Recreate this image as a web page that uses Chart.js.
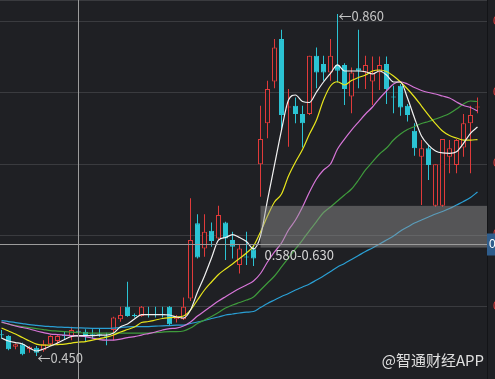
<!DOCTYPE html>
<html><head><meta charset="utf-8">
<script src="https://cdn.jsdelivr.net/npm/chart.js@4"></script>
<style>html,body{margin:0;padding:0;background:#1f2024;overflow:hidden}canvas{display:block}</style>
</head><body>
<canvas id="c" width="495" height="379"></canvas>
<script>
// ---- data (prices) ----
const opens  = [0.476,0.474,0.461,0.464,0.458,0.460,0.457,0.464,0.468,0.475,0.473,0.480,0.479,0.476,0.476,0.474,0.481,0.494,0.509,0.499,0.498,0.500,0.500,0.500,0.509,0.494,0.494,0.519,0.609,0.579,0.600,0.591,0.610,0.589,0.559,0.569,0.578,0.680,0.729,0.779,0.830,0.748,0.750,0.740,0.740,0.810,0.800,0.790,0.799,0.799,0.761,0.795,0.790,0.779,0.790,0.800,0.761,0.774,0.750,0.720,0.689,0.699,0.630,0.630,0.689,0.679,0.700,0.729,0.748];
const closes = [0.475,0.458,0.464,0.452,0.461,0.454,0.464,0.474,0.474,0.474,0.481,0.479,0.474,0.475,0.475,0.473,0.496,0.499,0.498,0.498,0.509,0.499,0.499,0.499,0.488,0.497,0.509,0.589,0.568,0.599,0.588,0.619,0.591,0.581,0.579,0.568,0.567,0.710,0.770,0.820,0.739,0.749,0.740,0.729,0.810,0.790,0.790,0.810,0.792,0.770,0.790,0.792,0.799,0.789,0.799,0.770,0.760,0.748,0.739,0.699,0.699,0.679,0.680,0.710,0.699,0.709,0.729,0.739,0.749];
const highs  = [0.481,0.475,0.465,0.466,0.462,0.462,0.469,0.475,0.475,0.480,0.485,0.482,0.482,0.482,0.483,0.478,0.497,0.509,0.539,0.501,0.510,0.509,0.509,0.509,0.510,0.499,0.520,0.639,0.620,0.620,0.610,0.630,0.611,0.599,0.583,0.599,0.583,0.750,0.780,0.830,0.841,0.770,0.760,0.750,0.810,0.820,0.810,0.830,0.860,0.801,0.796,0.841,0.810,0.809,0.809,0.809,0.774,0.776,0.752,0.729,0.709,0.703,0.680,0.710,0.709,0.710,0.740,0.750,0.760];
const lows   = [0.471,0.457,0.458,0.451,0.454,0.450,0.455,0.462,0.464,0.470,0.469,0.476,0.467,0.471,0.473,0.463,0.469,0.491,0.497,0.496,0.497,0.496,0.496,0.496,0.487,0.490,0.493,0.516,0.567,0.569,0.581,0.589,0.565,0.567,0.549,0.559,0.558,0.641,0.711,0.771,0.721,0.701,0.729,0.700,0.739,0.771,0.780,0.780,0.778,0.751,0.741,0.771,0.770,0.751,0.769,0.752,0.741,0.738,0.731,0.690,0.631,0.661,0.629,0.629,0.669,0.669,0.689,0.669,0.741];

const ma5  = [0.4715,0.4679,0.4661,0.4643,0.4595,0.4560,0.4584,0.4619,0.4655,0.4697,0.4733,0.4745,0.4745,0.4745,0.4751,0.4751,0.4775,0.4851,0.4883,0.4943,0.4997,0.4997,0.4997,0.4997,0.4991,0.4967,0.4955,0.5051,0.5267,0.5459,0.5675,0.5890,0.5920,0.5956,0.5920,0.5872,0.5783,0.5938,0.6370,0.6790,0.7209,0.7569,0.7629,0.7551,0.7539,0.7665,0.7785,0.7889,0.7989,0.7917,0.7917,0.7917,0.7908,0.7881,0.7917,0.7869,0.7785,0.7785,0.7593,0.7353,0.7137,0.7029,0.6958,0.6934,0.6930,0.6949,0.7050,0.7170,0.7245];
const ma10 = [0.4835,0.4799,0.4763,0.4721,0.4679,0.4643,0.4631,0.4631,0.4637,0.4643,0.4655,0.4667,0.4673,0.4691,0.4709,0.4727,0.4751,0.4787,0.4817,0.4847,0.4901,0.4913,0.4931,0.4949,0.4959,0.4967,0.4979,0.5051,0.5171,0.5291,0.5387,0.5477,0.5543,0.5603,0.5669,0.5735,0.5818,0.5986,0.6178,0.6346,0.6442,0.6658,0.6826,0.6975,0.7161,0.7329,0.7569,0.7737,0.7788,0.7749,0.7803,0.7839,0.7869,0.7917,0.7929,0.7911,0.7857,0.7785,0.7701,0.7605,0.7497,0.7389,0.7287,0.7197,0.7143,0.7113,0.7089,0.7089,0.7095];
const ma20 = [0.4907,0.4883,0.4859,0.4841,0.4823,0.4799,0.4781,0.4763,0.4757,0.4751,0.4745,0.4739,0.4731,0.4715,0.4697,0.4691,0.4691,0.4703,0.4721,0.4731,0.4751,0.4769,0.4787,0.4811,0.4829,0.4835,0.4859,0.4907,0.4979,0.5039,0.5099,0.5159,0.5211,0.5261,0.5309,0.5351,0.5399,0.5489,0.5627,0.5747,0.5854,0.6010,0.6130,0.6286,0.6466,0.6622,0.6730,0.6802,0.6981,0.7101,0.7209,0.7305,0.7401,0.7485,0.7587,0.7677,0.7761,0.7788,0.7761,0.7719,0.7683,0.7659,0.7641,0.7617,0.7593,0.7545,0.7503,0.7479,0.7437];
const ma30 = [0.4901,0.4883,0.4865,0.4853,0.4841,0.4829,0.4817,0.4805,0.4799,0.4793,0.4787,0.4781,0.4775,0.4775,0.4775,0.4775,0.4775,0.4775,0.4775,0.4775,0.4775,0.4775,0.4781,0.4787,0.4791,0.4791,0.4799,0.4835,0.4889,0.4931,0.4973,0.5021,0.5075,0.5111,0.5141,0.5171,0.5207,0.5291,0.5375,0.5459,0.5567,0.5675,0.5783,0.5890,0.6004,0.6112,0.6220,0.6286,0.6358,0.6430,0.6502,0.6610,0.6730,0.6826,0.6922,0.6993,0.7089,0.7161,0.7215,0.7251,0.7287,0.7311,0.7341,0.7371,0.7407,0.7461,0.7521,0.7557,0.7551];
const ma60 = [0.4923,0.4913,0.4901,0.4889,0.4877,0.4868,0.4859,0.4853,0.4847,0.4844,0.4840,0.4837,0.4834,0.4832,0.4832,0.4832,0.4835,0.4841,0.4850,0.4851,0.4851,0.4853,0.4857,0.4862,0.4865,0.4869,0.4871,0.4889,0.4907,0.4925,0.4949,0.4967,0.4991,0.5003,0.5015,0.5025,0.5033,0.5081,0.5129,0.5171,0.5213,0.5249,0.5291,0.5327,0.5363,0.5411,0.5459,0.5513,0.5567,0.5609,0.5657,0.5705,0.5753,0.5795,0.5842,0.5890,0.5938,0.5998,0.6046,0.6094,0.6130,0.6166,0.6202,0.6232,0.6268,0.6310,0.6352,0.6400,0.6466];

const yTicks = [0.851, 0.766, 0.680, 0.595, 0.509];
const highMark = {index: 48, value: 0.860, label: '←0.860'};
const lowMark  = {index: 5,  value: 0.450, label: '←0.450'};
const zone = {fromIndex: 37, low: 0.580, high: 0.630, label: '0.580-0.630'};
const crosshair = {index: 11, value: 0.584, label: '0.584'};
const watermark = '@智通财经APP';

// ---- styling ----
const BG = '#1f2024', UP = '#e03a3a', DOWN = '#2bc3d3';
const idx = opens.map((_, i) => i);
const isUp = i => closes[i] > opens[i];
const isDoji = i => Math.abs(closes[i] - opens[i]) < 0.0015;
const candleColor = i => isUp(i) ? UP : DOWN;
const LABEL_FONT = '13px "Noto Sans CJK SC", "Liberation Sans", sans-serif';

const overlay = {
  id: 'overlay',
  beforeDatasetsDraw(chart) {
    const {ctx, chartArea: a} = chart;
    ctx.save();
    ctx.strokeStyle = '#3a3b3f'; ctx.lineWidth = 1;
    ctx.beginPath(); ctx.moveTo(a.left, a.top + 0.5); ctx.lineTo(a.right, a.top + 0.5); ctx.stroke();
    ctx.restore();
  },
  afterDatasetsDraw(chart) {
    const {ctx, chartArea: a, scales: {x, y}} = chart;
    ctx.save();
    const zx = x.getPixelForValue(zone.fromIndex);
    const zt = y.getPixelForValue(zone.high), zb = y.getPixelForValue(zone.low);
    ctx.fillStyle = 'rgba(150,150,150,0.45)';
    ctx.fillRect(zx, zt, a.right - zx, zb - zt);
    const cx = Math.floor(x.getPixelForValue(crosshair.index)) + 0.5;
    const cy = Math.floor(y.getPixelForValue(crosshair.value)) + 0.5;
    ctx.strokeStyle = '#9c9c9c'; ctx.lineWidth = 1;
    ctx.beginPath();
    ctx.moveTo(cx, a.top); ctx.lineTo(cx, a.bottom);
    ctx.moveTo(a.left, cy); ctx.lineTo(a.right, cy);
    ctx.stroke();
    ctx.textBaseline = 'middle'; ctx.textAlign = 'left';
    ctx.font = LABEL_FONT;
    ctx.fillStyle = '#d4d4d4';
    ctx.fillText(zone.label, zx + 4, zb + 8);
    ctx.fillStyle = '#c4c4c4';
    ctx.fillText(highMark.label, x.getPixelForValue(highMark.index) + 1, y.getPixelForValue(highMark.value) + 2);
    ctx.fillText(lowMark.label, x.getPixelForValue(lowMark.index) + 1, y.getPixelForValue(lowMark.value) + 2);
    ctx.restore();
  },
  afterDraw(chart) {
    const {ctx, chartArea: a, scales: {y}} = chart;
    ctx.save();
    const cy = Math.floor(y.getPixelForValue(crosshair.value)) + 0.5;
    ctx.fillStyle = '#2f5d8c';
    ctx.fillRect(a.right, cy - 11, 12, 22);
    ctx.fillStyle = '#ffffff';
    ctx.font = '12px "Liberation Sans", Arial, sans-serif';
    ctx.textBaseline = 'middle'; ctx.textAlign = 'left';
    ctx.fillText(crosshair.label, a.right + 2, cy);
    ctx.font = '15px "Noto Sans CJK SC", sans-serif';
    ctx.fillStyle = 'rgba(240,240,240,0.92)';
    ctx.textAlign = 'right';
    ctx.fillText(watermark, 484, 360);
    ctx.restore();
  }
};

const line = (data, color) => ({
  type: 'line', data: idx.map(i => ({x: i, y: data[i]})),
  borderColor: color, borderWidth: 1.2, pointRadius: 0, pointHoverRadius: 0,
  cubicInterpolationMode: 'monotone', fill: false, order: 0
});

new Chart(document.getElementById('c'), {
  type: 'bar',
  data: {
    datasets: [
      line(ma5, '#f2f2f2'),
      line(ma10, '#e8e61c'),
      line(ma20, '#d775d8'),
      line(ma30, '#3f9b3c'),
      line(ma60, '#2a9fd4'),
      {
        type: 'bar', order: 1, grouped: false,
        data: idx.map(i => ({x: i, y: [opens[i], closes[i]]})),
        barThickness: 5, minBarLength: 1, borderWidth: 1, borderSkipped: false, inflateAmount: 0,
        backgroundColor: idx.map(i => isUp(i) && !isDoji(i) ? BG : candleColor(i)),
        borderColor: idx.map(candleColor)
      },
      {
        type: 'bar', order: 2, grouped: false,
        data: idx.map(i => ({x: i, y: [lows[i], highs[i]]})),
        barThickness: 1, borderWidth: 0, inflateAmount: 0,
        backgroundColor: idx.map(candleColor)
      }
    ]
  },
  options: {
    responsive: false, animation: false, devicePixelRatio: 1,
    layout: {padding: 0},
    plugins: {legend: {display: false}, tooltip: {enabled: false}},
    scales: {
      x: {type: 'linear', display: false, min: -0.2143, max: 69.3571, offset: false},
      y: {
        type: 'linear', position: 'right', min: 0.4224, max: 0.8768,
        afterBuildTicks: s => { s.ticks = yTicks.map(v => ({value: v})); },
        afterFit: s => { s.width = 8; s.paddingTop = 0; s.paddingBottom = 0; s.paddingLeft = 0; s.paddingRight = 0; },
        grid: {color: '#3a3b3f', drawTicks: false},
        border: {display: true, color: '#131417'},
        ticks: {color: UP, padding: 6, font: {size: 12, family: '"Liberation Sans", Arial'}, callback: v => v.toFixed(3)}
      }
    }
  },
  plugins: [overlay]
});
</script>
</body></html>
